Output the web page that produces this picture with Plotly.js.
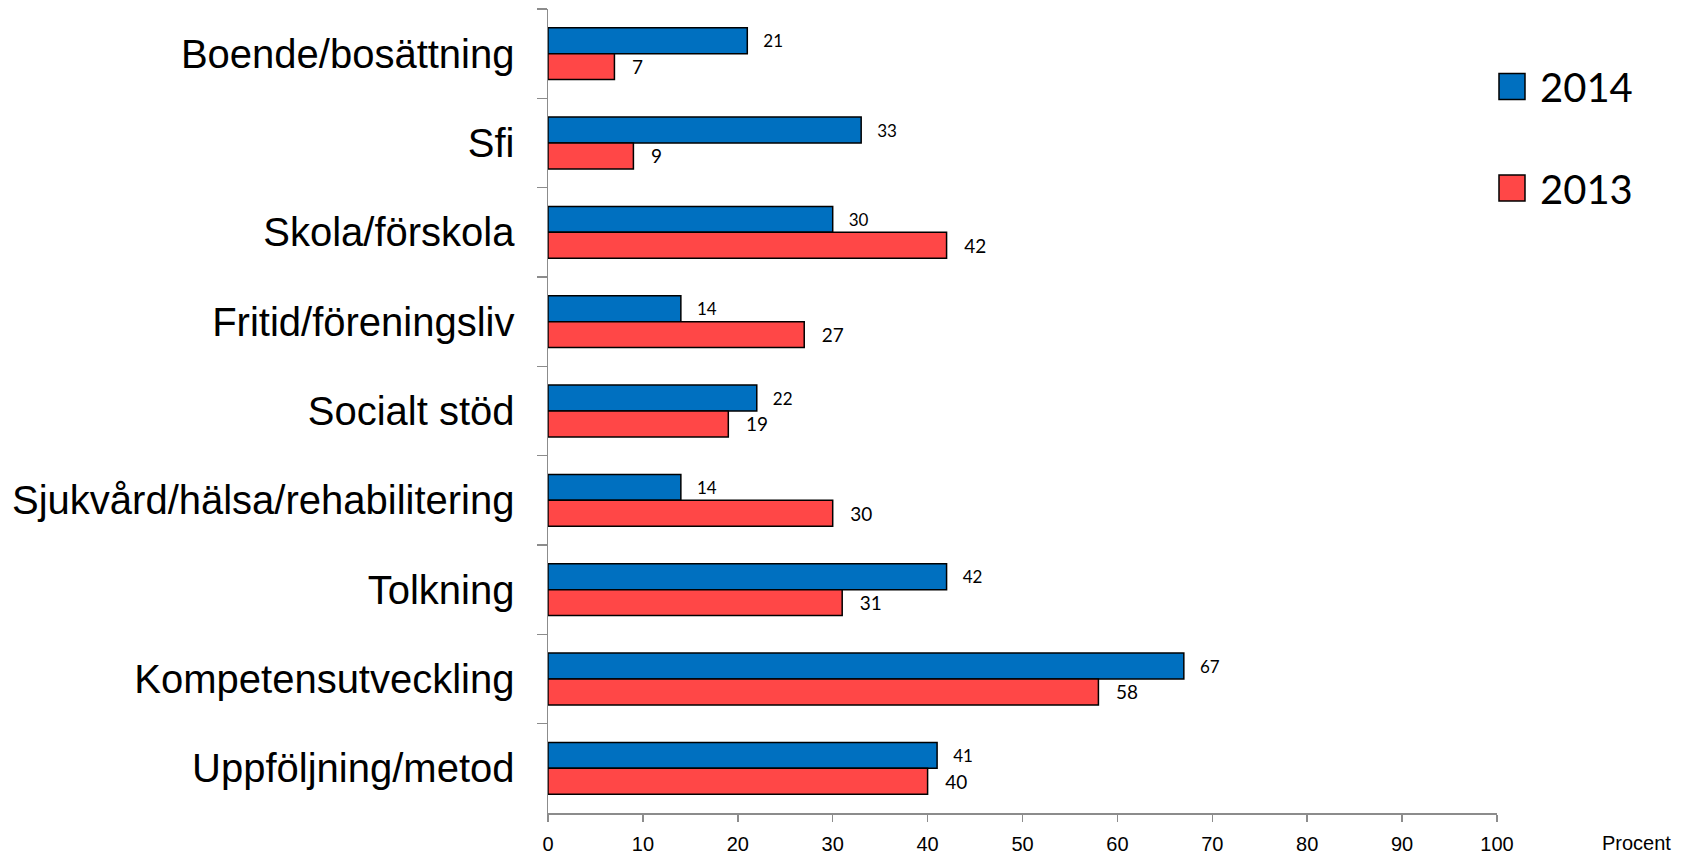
<!DOCTYPE html>
<html>
<head>
<meta charset="utf-8">
<script src="https://cdn.plot.ly/plotly-3.0.1.min.js"></script>
<style>html,body{margin:0;padding:0;background:#fff;}#chart{width:1696px;height:853px;}</style>
</head>
<body>
<div id="chart"></div>
<script>
const categories = [
  "Boende/bosättning",
  "Sfi",
  "Skola/förskola",
  "Fritid/föreningsliv",
  "Socialt stöd",
  "Sjukvård/hälsa/rehabilitering",
  "Tolkning",
  "Kompetensutveckling",
  "Uppföljning/metod"
];
const values2014 = [21, 33, 30, 14, 22, 14, 42, 67, 41];
const values2013 = [7, 9, 42, 27, 19, 30, 31, 58, 40];
const seriesNames = ["2014", "2013"];
const xTickValues = [0, 10, 20, 30, 40, 50, 60, 70, 80, 90, 100];
const xAxisLabel = "Procent";

const blue = "#0070C0";
const red = "#FF4747";

const traces = [
  {
    type: "bar", orientation: "h", name: seriesNames[0],
    y: categories, x: values2014,
    marker: {color: blue, line: {color: "#000", width: 1.5}},
    texttemplate: "\u00a0\u00a0\u00a0%{x}", textposition: "outside", cliponaxis: false,
    textfont: {family: "Lato, 'Open Sans', sans-serif", size: 17, color: "#000"},
    showlegend: false, hoverinfo: "skip"
  },
  {
    type: "bar", orientation: "h", name: seriesNames[1],
    y: categories, x: values2013,
    marker: {color: red, line: {color: "#000", width: 1.5}},
    texttemplate: "\u00a0\u00a0\u00a0%{x}", textposition: "outside", cliponaxis: false,
    textfont: {family: "Lato, 'Open Sans', sans-serif", size: 19, color: "#000"},
    showlegend: false, hoverinfo: "skip"
  }
];

const legendFont = {family: "Lato, 'Open Sans', sans-serif", size: 40, color: "#000"};
const shapes = [
  {type: "rect", xref: "paper", yref: "paper", x0: 1.0021, x1: 1.0295, y0: 0.8875, y1: 0.9198,
   fillcolor: blue, line: {color: "#000", width: 1.5}},
  {type: "rect", xref: "paper", yref: "paper", x0: 1.0021, x1: 1.0295, y0: 0.7612, y1: 0.7935,
   fillcolor: red, line: {color: "#000", width: 1.5}}
];
const annotations = [
  {xref: "paper", yref: "paper", x: 1.0432, y: 0.9036, xanchor: "left", yanchor: "middle",
   text: seriesNames[0], showarrow: false, font: legendFont},
  {xref: "paper", yref: "paper", x: 1.0432, y: 0.7761, xanchor: "left", yanchor: "middle",
   text: seriesNames[1], showarrow: false, font: legendFont},
  {xref: "paper", yref: "paper", x: 1.147, y: -0.0373, xanchor: "center", yanchor: "middle",
   text: xAxisLabel, showarrow: false,
   font: {family: "'Liberation Sans', Arial, sans-serif", size: 20, color: "#000"}}
];

const layout = {
  width: 1696, height: 853,
  margin: {l: 548, r: 199, t: 9, b: 40, pad: 0},
  paper_bgcolor: "#fff", plot_bgcolor: "#fff",
  barmode: "group", bargap: 0.42, bargroupgap: 0,
  showlegend: false,
  xaxis: {
    range: [0, 100], tickvals: xTickValues, ticktext: xTickValues.map(String),
    showgrid: false, zeroline: false,
    showline: true, linecolor: "#8c8c8c", linewidth: 1.5,
    ticks: "outside", ticklen: 7, tickcolor: "#8c8c8c", tickwidth: 1.5,
    ticklabelstandoff: 5,
    tickfont: {family: "'Liberation Sans', Arial, sans-serif", size: 20, color: "#000"},
    fixedrange: true
  },
  yaxis: {
    type: "category", autorange: "reversed",
    showgrid: false, zeroline: false,
    showline: true, linecolor: "#8c8c8c", linewidth: 1.5,
    ticks: "outside", tickson: "boundaries", ticklen: 10, tickcolor: "#8c8c8c", tickwidth: 1.5,
    ticklabelstandoff: 24,
    tickfont: {family: "'Liberation Sans', Arial, sans-serif", size: 40, color: "#000"},
    fixedrange: true
  },
  shapes: shapes,
  annotations: annotations
};

Plotly.newPlot("chart", traces, layout, {displayModeBar: false, staticPlot: true});
</script>
</body>
</html>
